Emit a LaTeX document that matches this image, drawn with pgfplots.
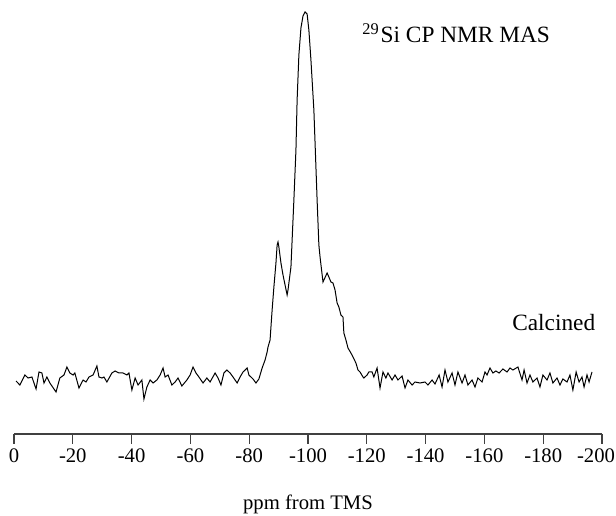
\documentclass[border=0pt]{standalone}
\usepackage{pgfplots}
\pgfplotsset{compat=1.18}
\usepackage{fontspec}
\setmainfont{Liberation Serif}

\begin{document}
\begin{tikzpicture}[x=0.75pt,y=0.75pt]
\begin{axis}[
    scale only axis,
    width=441pt, height=325.5pt,
    xmin=-200, xmax=0, x dir=reverse,
    ymin=0, ymax=434,
    axis x line*=bottom,
    axis y line=none,
    xtick={0,-20,-40,-60,-80,-100,-120,-140,-160,-180,-200},
    xticklabels={0,-20,-40,-60,-80,-100,-120,-140,-160,-180,\hspace*{-9pt}-200},
    tick align=outside,
    major tick length=7.5pt,
    x axis line style={black!75, line width=0.8pt},
    every tick/.style={black!75, line width=0.8pt},
    tick label style={font=\fontsize{15.5}{18}\selectfont},
    xlabel={ppm from TMS},
    xlabel style={font=\fontsize{15.5}{18}\selectfont, yshift=-17pt},
    clip=false,
]
% Calcined sample spectrum
\addplot[black, line width=0.75pt] coordinates {
(-0.7,53) (-2.0,49) (-3.7,59) (-4.8,56) (-6.1,57) (-7.5,45) (-8.5,62) (-9.5,61)
(-10.2,51) (-11.2,57) (-12.2,51) (-14.3,42) (-15.6,56) (-17.0,59) (-18.0,67) (-19.0,61)
(-20.1,59) (-20.7,61) (-22.1,46) (-23.5,54) (-24.5,52) (-25.5,57) (-26.9,59) (-28.2,68)
(-28.9,57) (-29.9,56) (-30.6,57) (-31.6,52) (-33.3,61) (-34.4,63) (-35.7,61) (-37.1,61)
(-38.4,59) (-39.1,61) (-40.1,44) (-41.2,56) (-42.2,49) (-43.5,54) (-44.2,35) (-45.2,47)
(-46.3,54) (-47.3,51) (-48.6,54) (-49.7,59) (-50.7,66) (-51.4,57) (-52.4,59) (-53.7,49)
(-54.8,52) (-55.8,56) (-57.1,48) (-58.8,54) (-59.9,59) (-60.9,67) (-61.9,61) (-62.9,57)
(-64.3,51) (-65.6,56) (-66.7,52) (-68.4,61) (-69.4,56) (-70.4,49) (-71.4,61) (-72.4,64)
(-73.5,61) (-74.5,57) (-75.9,51) (-76.9,57) (-77.9,62) (-79.3,66) (-79.9,59) (-81.3,55)
(-82.3,51) (-83.3,55) (-84.4,66) (-85.4,74) (-86.1,82) (-86.4,87) (-87.1,94) (-87.4,107)
(-87.8,124) (-88.4,147) (-89.1,171) (-89.5,189) (-89.8,192) (-90.1,187) (-90.8,171)
(-91.5,159) (-92.9,139) (-93.2,144) (-94.2,167) (-94.6,194) (-95.2,234) (-95.9,284)
(-96.3,334) (-96.9,379) (-97.6,406) (-98.3,418) (-99.0,422) (-99.7,420) (-100.3,404)
(-101.0,374) (-102.0,324) (-103.1,234) (-103.7,189) (-104.1,177) (-105.1,152) (-106.5,161)
(-107.1,157) (-107.8,152) (-108.5,151) (-109.2,144) (-109.9,131) (-110.5,127) (-111.2,119)
(-111.9,117) (-112.2,101) (-112.9,94) (-113.6,86) (-114.6,81) (-115.3,77) (-116.3,71)
(-117.0,64) (-117.7,62) (-118.7,57) (-119.0,56) (-120.1,59) (-120.7,62) (-121.8,62)
(-122.4,57) (-123.5,66) (-124.5,46) (-125.5,62) (-126.5,56) (-127.2,61) (-128.6,54)
(-129.6,59) (-130.6,54) (-132.0,58) (-133.0,46) (-134.0,54) (-135.4,49) (-136.4,52)
(-138.1,51) (-139.8,52) (-140.8,49) (-142.2,54) (-143.2,50) (-144.6,59) (-145.6,47)
(-146.6,64) (-147.6,52) (-149.0,61) (-150.0,49) (-151.0,62) (-152.4,51) (-153.4,59)
(-154.4,49) (-155.8,54) (-156.8,47) (-157.8,56) (-159.2,52) (-160.2,62) (-160.9,59)
(-161.9,66) (-162.9,61) (-163.9,63) (-165.0,61) (-166.3,65) (-167.7,62) (-168.7,66)
(-169.7,64) (-171.4,67) (-172.8,54) (-173.5,64) (-174.5,51) (-175.5,59) (-176.5,52)
(-177.9,56) (-178.9,47) (-179.9,59) (-181.3,54) (-182.3,61) (-183.3,51) (-184.7,56)
(-185.7,49) (-186.7,55) (-188.1,52) (-189.1,59) (-190.1,44) (-191.2,62) (-192.2,52)
(-193.2,57) (-193.9,47) (-194.9,59) (-195.6,52) (-196.6,62)
};
\node[anchor=west, inner sep=0pt, font=\fontsize{17.5}{21}\selectfont]
  at (axis cs:-118.4,401) {\textsuperscript{29}\kern1pt Si CP NMR MAS};
\node[anchor=west, inner sep=0pt, font=\fontsize{17.5}{21}\selectfont]
  at (axis cs:-169.4,111) {Calcined};
\coordinate (O) at (axis cs:0,0);
\end{axis}
\pgfresetboundingbox
\path[use as bounding box] (O) ++(-14,-82) rectangle ++(616,516);
\end{tikzpicture}
\end{document}
